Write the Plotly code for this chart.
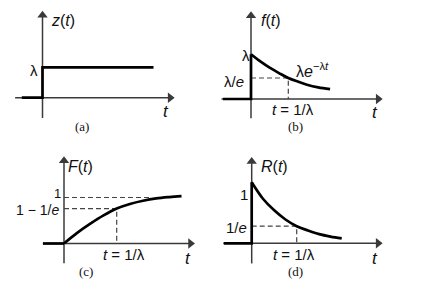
import plotly.graph_objects as go

W, H = 429, 291

# ---------------- data (t in units of 1/lambda, value in units of level) ----------------
# (a) z(t): constant failure rate
a_t = [-0.56, 0.0, 0.0, 3.0]
a_v = [0.0, 0.0, 1.0, 1.0]

# (b) f(t) = lambda e^{-lambda t}
b_jump_t = [-0.75, 0.0, 0.0]
b_jump_v = [0.0, 0.0, 1.0]
b_t = [0.0, 0.25, 0.5, 0.75, 1.0, 1.25, 1.5, 1.8, 2.12]
b_v = [1.0, 0.84, 0.70, 0.58, 0.47, 0.39, 0.32, 0.26, 0.22]
b_mark_t = 1.0
b_mark_v = 0.47

# (c) F(t) = 1 - e^{-lambda t}
c_zero_t = [-0.40, 0.0]
c_zero_v = [0.0, 0.0]
c_t = [0.0, 0.25, 0.5, 0.75, 1.0, 1.25, 1.5, 1.75, 2.0, 2.23]
c_v = [0.0, 0.23, 0.43, 0.61, 0.76, 0.86, 0.93, 0.98, 1.01, 1.03]
c_one = 1.0
c_one_end = 1.62
c_mark_t = 1.0
c_mark_v = 0.76

# (d) R(t) = e^{-lambda t}
d_jump_t = [-0.62, 0.0, 0.0]
d_jump_v = [0.0, 0.0, 1.0]
d_t = [0.0, 0.25, 0.5, 0.75, 1.0, 1.25, 1.5, 1.75, 2.0]
d_v = [1.0, 0.73, 0.54, 0.39, 0.28, 0.21, 0.15, 0.11, 0.08]
d_mark_t = 1.0
d_mark_v = 0.28

# ---------------- layout helpers ----------------
# panel: box (px), origin (px), scale (px per unit)
panels = {
    "a": dict(box=(0, 215, 0, 145), o=(42.5, 97.7), s=(37.0, 30.3)),
    "b": dict(box=(215, 429, 0, 145), o=(251.0, 99.0), s=(37.3, 44.7)),
    "c": dict(box=(0, 215, 145, 291), o=(64.0, 243.5), s=(52.7, 46.0)),
    "d": dict(box=(215, 429, 145, 291), o=(251.7, 243.3), s=(45.0, 61.0)),
}
axis_ids = {"a": ("x", "y"), "b": ("x2", "y2"), "c": ("x3", "y3"), "d": ("x4", "y4")}

fig = go.Figure()
layout = dict(width=W, height=H, margin=dict(l=0, r=0, t=0, b=0),
              paper_bgcolor="white", plot_bgcolor="white", showlegend=False)

for k, p in panels.items():
    bx0, bx1, by0, by1 = p["box"]
    ox, oy = p["o"]
    sx, sy = p["s"]
    xa, ya = axis_ids[k]
    xname = "xaxis" + xa[1:]
    yname = "yaxis" + ya[1:]
    layout[xname] = dict(domain=[bx0 / W, bx1 / W], range=[(bx0 - ox) / sx, (bx1 - ox) / sx],
                         visible=False, anchor=ya, fixedrange=True)
    layout[yname] = dict(domain=[1 - by1 / H, 1 - by0 / H], range=[(oy - by1) / sy, (oy - by0) / sy],
                         visible=False, anchor=xa, fixedrange=True)

fig.update_layout(**layout)

AX_COL = "#3a3a3a"
FN = dict(color="#000000", width=2.7)
DASH = dict(color="#444444", width=1.2, dash="5px,3px")


def add_line(k, x, y, line, shape="linear"):
    xa, ya = axis_ids[k]
    fig.add_trace(go.Scatter(x=x, y=y, mode="lines", line=dict(shape=shape, **line),
                             xaxis=xa, yaxis=ya, hoverinfo="skip", cliponaxis=False))


def add_axis(k, x0, x1, y0, y1, symbol):
    xa, ya = axis_ids[k]
    fig.add_trace(go.Scatter(x=[x0, x1], y=[y0, y1], mode="lines",
                             line=dict(color=AX_COL, width=1.5),
                             xaxis=xa, yaxis=ya, hoverinfo="skip"))
    fig.add_trace(go.Scatter(x=[x1], y=[y1], mode="markers",
                             marker=dict(symbol=symbol, size=9, color=AX_COL, line=dict(width=0)),
                             xaxis=xa, yaxis=ya, hoverinfo="skip", cliponaxis=False))


def px_text(x, y, text, size=14, family="Liberation Sans, Arial, sans-serif"):
    fig.add_annotation(x=x / W, y=1 - y / H, xref="paper", yref="paper", text=text, showarrow=False,
                       font=dict(size=size, color="#111111", family=family),
                       xanchor="center", yanchor="middle", borderpad=0)


# axis extents (data units)
axes = {
    "a": ((-0.74, 3.45), (-0.67, 2.72)),
    "b": ((-0.79, 3.41), (-0.43, 1.86)),
    "c": ((-0.40, 2.40), (-0.43, 1.80)),
    "d": ((-0.63, 2.81), (-0.33, 1.34)),
}
for k, ((hx0, hx1), (vy0, vy1)) in axes.items():
    add_axis(k, hx0, hx1, 0, 0, "triangle-right")
    add_axis(k, 0, 0, vy0, vy1, "triangle-up")

# (a)
add_line("a", a_t, a_v, FN)
# (b)
add_line("b", [0, b_mark_t, b_mark_t], [b_mark_v, b_mark_v, 0], DASH)
add_line("b", b_jump_t, b_jump_v, FN)
add_line("b", b_t, b_v, FN, "spline")
# (c)
add_line("c", [0, c_one_end], [c_one, c_one], DASH)
add_line("c", [0, c_mark_t, c_mark_t], [c_mark_v, c_mark_v, 0], DASH)
add_line("c", c_zero_t, c_zero_v, FN)
add_line("c", c_t, c_v, FN, "spline")
# (d)
add_line("d", [0, d_mark_t, d_mark_t], [d_mark_v, d_mark_v, 0], DASH)
add_line("d", d_jump_t, d_jump_v, FN)
add_line("d", d_t, d_v, FN, "spline")

SERIF = "Liberation Serif, Times New Roman, serif"

# ---- texts (a)
px_text(62.5, 21, "<i>z</i>(<i>t</i>)", 16)
px_text(33.5, 70, "λ", 15)
px_text(166, 112, "<i>t</i>", 17)
px_text(82, 126.5, "(a)", 13, family=SERIF)
# ---- texts (b)
px_text(271, 21, "<i>f</i>(<i>t</i>)", 16)
px_text(245.5, 55, "λ", 15)
px_text(234, 81.5, "λ/<i>e</i>", 15)
px_text(312, 70, "λ<i>e</i><sup>−λ<i>t</i></sup>", 16)
px_text(292.5, 109.5, "<i>t</i> = 1/λ", 15)
px_text(374.5, 113, "<i>t</i>", 17)
px_text(295, 126.5, "(b)", 13, family=SERIF)
# ---- texts (c)
px_text(80, 166, "<i>F</i>(<i>t</i>)", 16)
px_text(57.5, 193.5, "1", 13)
px_text(37.5, 209.5, "1 − 1/<i>e</i>", 14)
px_text(123.5, 254.5, "<i>t</i> = 1/λ", 15)
px_text(187.5, 258.5, "<i>t</i>", 17)
px_text(86, 271.5, "(c)", 13, family=SERIF)
# ---- texts (d)
px_text(274, 166, "<i>R</i>(<i>t</i>)", 16)
px_text(243.5, 195, "1", 15)
px_text(236.5, 227, "1/<i>e</i>", 15)
px_text(293.5, 254.5, "<i>t</i> = 1/λ", 15)
px_text(374.5, 258, "<i>t</i>", 17)
px_text(295, 271.5, "(d)", 13, family=SERIF)

fig.write_html("out.html")
